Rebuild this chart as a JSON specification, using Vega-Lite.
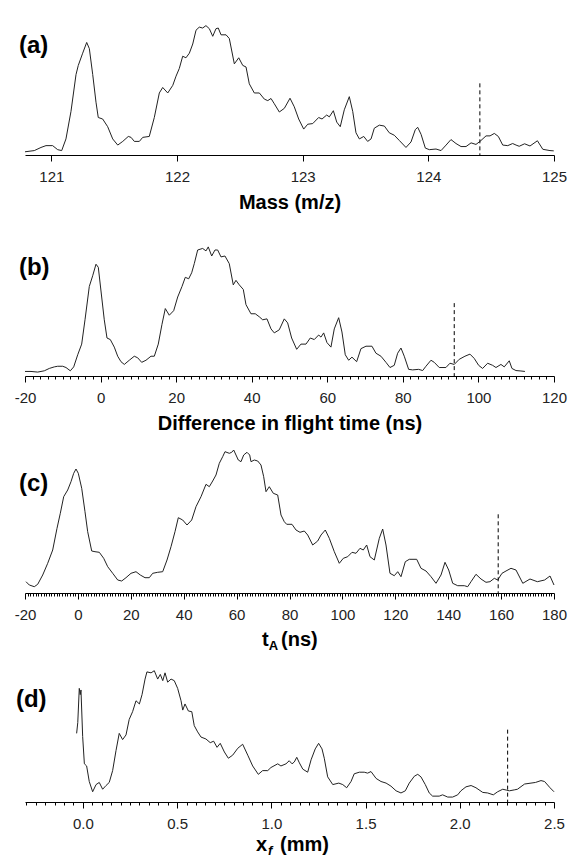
{
  "$schema": "https://vega.github.io/schema/vega-lite/v6.json",
  "padding": {"left": 14, "top": 8, "right": 5, "bottom": 0},
  "spacing": 0,
  "config": {
    "view": {"stroke": null},
    "axis": {
      "domainColor": "#000", "tickColor": "#000", "labelColor": "#222", "titleColor": "#000",
      "labelFont": "Liberation Sans", "labelFontSize": 15,
      "titleFont": "Liberation Sans", "titleFontSize": 20, "titleFontWeight": "bold",
      "grid": false, "labelFlush": false, "labelOverlap": false, "labelBound": false,
      "labelPadding": 8, "titlePadding": 8, "tickSize": 6
    }
  },
  "datasets": {
    "one": [{}],
    "a": [
      {"mass":120.79,"intensity":3.5},{"mass":120.864,"intensity":4.8},{"mass":120.917,"intensity":8.2},{"mass":120.957,"intensity":10.2},{"mass":121.01,"intensity":10.2},{"mass":121.05,"intensity":5.8},{"mass":121.082,"intensity":4.8},{"mass":121.116,"intensity":17.5},{"mass":121.156,"intensity":47.5},{"mass":121.196,"intensity":87.5},{"mass":121.214,"intensity":97.5},{"mass":121.249,"intensity":110.8},{"mass":121.281,"intensity":122.5},{"mass":121.302,"intensity":115.8},{"mass":121.329,"intensity":87.5},{"mass":121.355,"intensity":57.5},{"mass":121.373,"intensity":40.8},{"mass":121.408,"intensity":39.2},{"mass":121.448,"intensity":30.8},{"mass":121.488,"intensity":17.5},{"mass":121.528,"intensity":10.8},{"mass":121.568,"intensity":14.8},{"mass":121.612,"intensity":20.2},{"mass":121.634,"intensity":19.2},{"mass":121.66,"intensity":14.8},{"mass":121.7,"intensity":14.8},{"mass":121.727,"intensity":19.2},{"mass":121.779,"intensity":20.2},{"mass":121.819,"intensity":40.8},{"mass":121.859,"intensity":67.5},{"mass":121.886,"intensity":73.5},{"mass":121.926,"intensity":67.5},{"mass":121.966,"intensity":75.8},{"mass":121.992,"intensity":85.8},{"mass":122.018,"intensity":94.2},{"mass":122.045,"intensity":107.5},{"mass":122.071,"intensity":105.8},{"mass":122.098,"intensity":110.8},{"mass":122.125,"intensity":120.8},{"mass":122.151,"intensity":135.8},{"mass":122.177,"intensity":139.2},{"mass":122.204,"intensity":138.2},{"mass":122.23,"intensity":140.8},{"mass":122.257,"intensity":137.5},{"mass":122.284,"intensity":129.2},{"mass":122.31,"intensity":137.5},{"mass":122.328,"intensity":138.2},{"mass":122.35,"intensity":130.8},{"mass":122.39,"intensity":130.8},{"mass":122.416,"intensity":126.8},{"mass":122.456,"intensity":99.2},{"mass":122.491,"intensity":105.8},{"mass":122.523,"intensity":97.5},{"mass":122.549,"intensity":95.8},{"mass":122.575,"intensity":77.5},{"mass":122.615,"intensity":67.5},{"mass":122.655,"intensity":67.5},{"mass":122.695,"intensity":60.8},{"mass":122.722,"intensity":59.2},{"mass":122.748,"intensity":61.5},{"mass":122.774,"intensity":55.8},{"mass":122.814,"intensity":46.8},{"mass":122.854,"intensity":50.8},{"mass":122.899,"intensity":61.8},{"mass":122.933,"intensity":52.5},{"mass":122.968,"intensity":39.2},{"mass":123.008,"intensity":28.2},{"mass":123.04,"intensity":33.5},{"mass":123.08,"intensity":34.2},{"mass":123.127,"intensity":40.8},{"mass":123.154,"intensity":39.2},{"mass":123.191,"intensity":43.5},{"mass":123.212,"intensity":41.5},{"mass":123.244,"intensity":48.2},{"mass":123.271,"intensity":35.8},{"mass":123.299,"intensity":30.8},{"mass":123.331,"intensity":49.2},{"mass":123.371,"intensity":63.5},{"mass":123.398,"intensity":47.5},{"mass":123.424,"intensity":24.2},{"mass":123.451,"intensity":17.5},{"mass":123.486,"intensity":20.2},{"mass":123.517,"intensity":14.8},{"mass":123.544,"intensity":17.5},{"mass":123.57,"intensity":29.2},{"mass":123.61,"intensity":32.5},{"mass":123.65,"intensity":31.5},{"mass":123.689,"intensity":24.2},{"mass":123.729,"intensity":21.5},{"mass":123.769,"intensity":15.8},{"mass":123.822,"intensity":8.2},{"mass":123.862,"intensity":14.2},{"mass":123.896,"intensity":27.5},{"mass":123.915,"intensity":30.2},{"mass":123.942,"intensity":22.5},{"mass":123.976,"intensity":7.5},{"mass":124.008,"intensity":5.8},{"mass":124.061,"intensity":6.5},{"mass":124.101,"intensity":4.8},{"mass":124.141,"intensity":10.8},{"mass":124.18,"intensity":16.8},{"mass":124.22,"intensity":12.5},{"mass":124.26,"intensity":9.2},{"mass":124.3,"intensity":9.2},{"mass":124.34,"intensity":13.2},{"mass":124.379,"intensity":11.5},{"mass":124.411,"intensity":14.8},{"mass":124.459,"intensity":20.8},{"mass":124.491,"intensity":20.8},{"mass":124.525,"intensity":23.5},{"mass":124.557,"intensity":20.2},{"mass":124.592,"intensity":10.8},{"mass":124.632,"intensity":10.2},{"mass":124.671,"intensity":12.5},{"mass":124.698,"intensity":10.8},{"mass":124.723,"intensity":9.5},{"mass":124.766,"intensity":12.2},{"mass":124.809,"intensity":9.8},{"mass":124.868,"intensity":15.5},{"mass":124.911,"intensity":6.2},{"mass":124.968,"intensity":4.8},{"mass":124.998,"intensity":4.5}
    ],
    "b": [
      {"dt":-20,"intensity":5},{"dt":-18.41,"intensity":5},{"dt":-16.64,"intensity":4.3},{"dt":-14.89,"intensity":5.7},{"dt":-13.57,"intensity":8.3},{"dt":-12.25,"intensity":10},{"dt":-11.35,"intensity":10.7},{"dt":-10.02,"intensity":10.7},{"dt":-9.15,"intensity":9.3},{"dt":-8.01,"intensity":5.7},{"dt":-7.11,"intensity":10},{"dt":-6.05,"intensity":23.3},{"dt":-5,"intensity":35},{"dt":-4.12,"intensity":61.7},{"dt":-2.98,"intensity":98.3},{"dt":-2.09,"intensity":110},{"dt":-1.21,"intensity":122.7},{"dt":-0.6,"intensity":119.3},{"dt":0.11,"intensity":93.3},{"dt":0.98,"intensity":61.7},{"dt":1.7,"intensity":41.7},{"dt":2.57,"intensity":40},{"dt":3.63,"intensity":31.7},{"dt":4.53,"intensity":21.7},{"dt":5.4,"intensity":15.7},{"dt":6.28,"intensity":12.7},{"dt":7.6,"intensity":17.3},{"dt":8.92,"intensity":21.7},{"dt":9.82,"intensity":20},{"dt":10.88,"intensity":15},{"dt":12.02,"intensity":17.3},{"dt":13.34,"intensity":21.7},{"dt":14.22,"intensity":21.7},{"dt":15.27,"intensity":35},{"dt":16.25,"intensity":56.7},{"dt":17.13,"intensity":74},{"dt":18.18,"intensity":66.7},{"dt":19.35,"intensity":71.7},{"dt":20.41,"intensity":86.7},{"dt":21.55,"intensity":98.3},{"dt":22.42,"intensity":108.3},{"dt":23.32,"intensity":106.7},{"dt":24.11,"intensity":113.3},{"dt":24.8,"intensity":123.3},{"dt":25.7,"intensity":138.3},{"dt":27.02,"intensity":140},{"dt":27.9,"intensity":137.3},{"dt":28.5,"intensity":141.7},{"dt":29.41,"intensity":131.7},{"dt":30.28,"intensity":138.3},{"dt":30.99,"intensity":138.3},{"dt":31.87,"intensity":130.7},{"dt":32.92,"intensity":131.7},{"dt":34.06,"intensity":123.3},{"dt":35.12,"intensity":100},{"dt":35.83,"intensity":105},{"dt":36.71,"intensity":100},{"dt":37.77,"intensity":95},{"dt":38.48,"intensity":78.3},{"dt":39.8,"intensity":68.3},{"dt":40.94,"intensity":68.3},{"dt":42,"intensity":65},{"dt":42.9,"intensity":61.7},{"dt":44.04,"intensity":62.7},{"dt":45.1,"intensity":51.7},{"dt":45.97,"intensity":47.3},{"dt":47.29,"intensity":50.7},{"dt":48.62,"intensity":62.7},{"dt":49.51,"intensity":58.3},{"dt":50.57,"intensity":41.7},{"dt":51.9,"intensity":29.3},{"dt":53.03,"intensity":35},{"dt":54.36,"intensity":35},{"dt":55.5,"intensity":41.7},{"dt":56.55,"intensity":40},{"dt":57.72,"intensity":45},{"dt":58.33,"intensity":42.7},{"dt":59.04,"intensity":47.3},{"dt":59.91,"intensity":36.7},{"dt":60.97,"intensity":31.7},{"dt":61.85,"intensity":51.7},{"dt":63.01,"intensity":64},{"dt":63.88,"intensity":48.3},{"dt":64.76,"intensity":23.3},{"dt":65.66,"intensity":17.3},{"dt":66.53,"intensity":20.7},{"dt":67.77,"intensity":15.7},{"dt":68.91,"intensity":30},{"dt":70.24,"intensity":32.7},{"dt":71.82,"intensity":32.7},{"dt":72.88,"intensity":25},{"dt":74.2,"intensity":21.7},{"dt":75.53,"intensity":15},{"dt":76.59,"intensity":9.3},{"dt":77.72,"intensity":11.7},{"dt":78.62,"intensity":25},{"dt":79.5,"intensity":30.7},{"dt":80.37,"intensity":21.7},{"dt":81.53,"intensity":7.3},{"dt":82.59,"intensity":6.7},{"dt":84.18,"intensity":7.3},{"dt":85.24,"intensity":6},{"dt":86.11,"intensity":10.7},{"dt":87.44,"intensity":17.3},{"dt":88.31,"intensity":15},{"dt":89.63,"intensity":9.3},{"dt":91.4,"intensity":9.3},{"dt":92.46,"intensity":14},{"dt":93.6,"intensity":12.7},{"dt":94.92,"intensity":18.3},{"dt":96.43,"intensity":21.7},{"dt":97.76,"intensity":24},{"dt":98.89,"intensity":19.3},{"dt":100.06,"intensity":11.7},{"dt":101.11,"intensity":8.3},{"dt":102.44,"intensity":14},{"dt":103.76,"intensity":11.7},{"dt":104.64,"intensity":9.3},{"dt":105.96,"intensity":12.7},{"dt":106.83,"intensity":10},{"dt":108.16,"intensity":16.7},{"dt":108.87,"intensity":8.3},{"dt":109.93,"intensity":6},{"dt":111.25,"intensity":5.5},{"dt":112.31,"intensity":5}
    ],
    "c": [
      {"tA":-19.62,"intensity":11.3},{"tA":-18.37,"intensity":8},{"tA":-16.48,"intensity":6.3},{"tA":-15.2,"intensity":8.7},{"tA":-13.31,"intensity":18},{"tA":-11.42,"intensity":29.7},{"tA":-9.53,"intensity":43},{"tA":-7.9,"intensity":64.7},{"tA":-6.65,"intensity":79.7},{"tA":-5.37,"intensity":96.3},{"tA":-3.86,"intensity":103},{"tA":-2.61,"intensity":111.3},{"tA":-1.59,"intensity":119.7},{"tA":-0.72,"intensity":124},{"tA":0.15,"intensity":119.7},{"tA":1.44,"intensity":104.7},{"tA":2.68,"intensity":81.3},{"tA":3.7,"intensity":61.3},{"tA":5.22,"intensity":42},{"tA":6.46,"intensity":41.3},{"tA":8.09,"intensity":40.7},{"tA":9.75,"intensity":34.7},{"tA":11.27,"intensity":26.3},{"tA":13.16,"intensity":19.7},{"tA":15.05,"intensity":13},{"tA":16.56,"intensity":12},{"tA":18.18,"intensity":15.3},{"tA":20.08,"intensity":19.7},{"tA":21.97,"intensity":21.3},{"tA":23.59,"intensity":18},{"tA":25.37,"intensity":15.3},{"tA":26.99,"intensity":15.3},{"tA":28.28,"intensity":19.7},{"tA":30.17,"intensity":20.7},{"tA":32.06,"intensity":21.3},{"tA":33.69,"intensity":33},{"tA":35.2,"intensity":46.3},{"tA":36.71,"intensity":61.3},{"tA":37.96,"intensity":75.3},{"tA":39.62,"intensity":73},{"tA":41.25,"intensity":68},{"tA":43.02,"intensity":73},{"tA":44.65,"intensity":86.3},{"tA":46.54,"intensity":96.3},{"tA":48.43,"intensity":108.7},{"tA":49.68,"intensity":106.3},{"tA":50.96,"intensity":112},{"tA":52.21,"intensity":118},{"tA":53.46,"intensity":129.7},{"tA":54.74,"intensity":136.3},{"tA":55.61,"intensity":141.3},{"tA":57.24,"intensity":139.7},{"tA":58.15,"intensity":140.7},{"tA":58.9,"intensity":143},{"tA":59.77,"intensity":138},{"tA":60.64,"intensity":133},{"tA":61.66,"intensity":131.3},{"tA":62.68,"intensity":138},{"tA":63.93,"intensity":140.7},{"tA":64.95,"intensity":138},{"tA":65.44,"intensity":131.3},{"tA":66.69,"intensity":133},{"tA":67.98,"intensity":132},{"tA":69.22,"intensity":128},{"tA":70.24,"intensity":116.3},{"tA":71.12,"intensity":101.3},{"tA":72.36,"intensity":106.3},{"tA":73.87,"intensity":99.7},{"tA":75.54,"intensity":98},{"tA":76.79,"intensity":78},{"tA":78.03,"intensity":71.3},{"tA":78.94,"intensity":68.7},{"tA":80.94,"intensity":68.7},{"tA":82.46,"intensity":63},{"tA":83.97,"intensity":60.7},{"tA":85.59,"intensity":62},{"tA":86.88,"intensity":58},{"tA":88.77,"intensity":48},{"tA":90.66,"intensity":52},{"tA":91.91,"intensity":58},{"tA":93.53,"intensity":63},{"tA":95.05,"intensity":54.7},{"tA":96.94,"intensity":41.3},{"tA":98.83,"intensity":29.7},{"tA":100.34,"intensity":34.7},{"tA":102,"intensity":36.3},{"tA":103.63,"intensity":40.7},{"tA":105.14,"intensity":39.7},{"tA":106.65,"intensity":44.7},{"tA":107.9,"intensity":43},{"tA":109.18,"intensity":48},{"tA":110.43,"intensity":36.3},{"tA":112.06,"intensity":33},{"tA":113.95,"intensity":54.7},{"tA":115.23,"intensity":64},{"tA":116.48,"intensity":48},{"tA":117.99,"intensity":19.7},{"tA":119.62,"intensity":17.3},{"tA":120.91,"intensity":21.3},{"tA":122.15,"intensity":16.3},{"tA":123.78,"intensity":31.3},{"tA":125.29,"intensity":33.7},{"tA":128.09,"intensity":33.7},{"tA":129.72,"intensity":24.7},{"tA":131.61,"intensity":22},{"tA":133.5,"intensity":16.3},{"tA":135.39,"intensity":9.7},{"tA":137.28,"intensity":18},{"tA":138.79,"intensity":30.7},{"tA":140.19,"intensity":23},{"tA":141.7,"intensity":9.7},{"tA":143.59,"intensity":7.3},{"tA":146.09,"intensity":7.3},{"tA":147.37,"intensity":6.3},{"tA":148.62,"intensity":11.3},{"tA":150.51,"intensity":18.7},{"tA":152.4,"intensity":14},{"tA":154.29,"intensity":10.7},{"tA":155.8,"intensity":11.3},{"tA":157.43,"intensity":14.7},{"tA":158.71,"intensity":13},{"tA":160.34,"intensity":19.7},{"tA":161.85,"intensity":22},{"tA":163.74,"intensity":24.7},{"tA":165.63,"intensity":23},{"tA":168.2,"intensity":9.7},{"tA":170.93,"intensity":14},{"tA":173.72,"intensity":11.3},{"tA":176.45,"intensity":13},{"tA":178.49,"intensity":17},{"tA":180,"intensity":8}
    ],
    "d": [
      {"xf":-0.033,"intensity":73.7},{"xf":-0.027,"intensity":85.3},{"xf":-0.019,"intensity":122},{"xf":-0.014,"intensity":115.3},{"xf":-0.01,"intensity":120.3},{"xf":-0.001,"intensity":70.3},{"xf":0.008,"intensity":41},{"xf":0.02,"intensity":38.7},{"xf":0.034,"intensity":22},{"xf":0.052,"intensity":11},{"xf":0.07,"intensity":18.7},{"xf":0.087,"intensity":21},{"xf":0.105,"intensity":13.7},{"xf":0.123,"intensity":17.7},{"xf":0.14,"intensity":21},{"xf":0.158,"intensity":33.7},{"xf":0.176,"intensity":55.3},{"xf":0.193,"intensity":73.7},{"xf":0.211,"intensity":67},{"xf":0.229,"intensity":72},{"xf":0.246,"intensity":88.7},{"xf":0.264,"intensity":97},{"xf":0.282,"intensity":108.7},{"xf":0.3,"intensity":105.3},{"xf":0.314,"intensity":115.3},{"xf":0.33,"intensity":132},{"xf":0.34,"intensity":139.7},{"xf":0.362,"intensity":138.7},{"xf":0.379,"intensity":141},{"xf":0.397,"intensity":132},{"xf":0.411,"intensity":137},{"xf":0.424,"intensity":130.3},{"xf":0.436,"intensity":138.7},{"xf":0.45,"intensity":128.7},{"xf":0.468,"intensity":132},{"xf":0.485,"intensity":130.3},{"xf":0.503,"intensity":122},{"xf":0.521,"intensity":108.7},{"xf":0.53,"intensity":98.7},{"xf":0.542,"intensity":105.3},{"xf":0.56,"intensity":97.7},{"xf":0.578,"intensity":97},{"xf":0.591,"intensity":82},{"xf":0.609,"intensity":75.3},{"xf":0.627,"intensity":69.7},{"xf":0.653,"intensity":67.7},{"xf":0.676,"intensity":63.7},{"xf":0.694,"intensity":65.3},{"xf":0.712,"intensity":58.7},{"xf":0.729,"intensity":63},{"xf":0.751,"intensity":53.7},{"xf":0.772,"intensity":47},{"xf":0.795,"intensity":50.3},{"xf":0.822,"intensity":57.7},{"xf":0.848,"intensity":62},{"xf":0.875,"intensity":50.3},{"xf":0.901,"intensity":38.7},{"xf":0.931,"intensity":29.7},{"xf":0.954,"intensity":33.7},{"xf":0.981,"intensity":33.7},{"xf":0.998,"intensity":37},{"xf":1.034,"intensity":41},{"xf":1.051,"intensity":38.7},{"xf":1.078,"intensity":41},{"xf":1.095,"intensity":44.3},{"xf":1.11,"intensity":41},{"xf":1.122,"intensity":43},{"xf":1.135,"intensity":48},{"xf":1.149,"intensity":42},{"xf":1.167,"intensity":35.3},{"xf":1.193,"intensity":32},{"xf":1.211,"intensity":45.3},{"xf":1.233,"intensity":57},{"xf":1.251,"intensity":63},{"xf":1.269,"intensity":57},{"xf":1.281,"intensity":47},{"xf":1.299,"intensity":27},{"xf":1.326,"intensity":18.7},{"xf":1.358,"intensity":20.3},{"xf":1.379,"intensity":18.7},{"xf":1.4,"intensity":15.3},{"xf":1.423,"intensity":22},{"xf":1.44,"intensity":30.3},{"xf":1.467,"intensity":32},{"xf":1.493,"intensity":32},{"xf":1.511,"intensity":31},{"xf":1.529,"intensity":32.7},{"xf":1.556,"intensity":25.3},{"xf":1.582,"intensity":22},{"xf":1.609,"intensity":20.3},{"xf":1.635,"intensity":17},{"xf":1.662,"intensity":12},{"xf":1.688,"intensity":9.7},{"xf":1.711,"intensity":12},{"xf":1.732,"intensity":20.3},{"xf":1.759,"intensity":27.7},{"xf":1.777,"intensity":29.7},{"xf":1.794,"intensity":27},{"xf":1.817,"intensity":18.7},{"xf":1.838,"intensity":9.7},{"xf":1.856,"intensity":6.3},{"xf":1.891,"intensity":6.3},{"xf":1.909,"intensity":7.7},{"xf":1.936,"intensity":5.3},{"xf":1.962,"intensity":5.3},{"xf":1.989,"intensity":7.7},{"xf":2.006,"intensity":12},{"xf":2.033,"intensity":16.3},{"xf":2.06,"intensity":17.7},{"xf":2.086,"intensity":15.3},{"xf":2.122,"intensity":10.3},{"xf":2.148,"intensity":9.7},{"xf":2.178,"intensity":7.7},{"xf":2.201,"intensity":11},{"xf":2.228,"intensity":13.7},{"xf":2.249,"intensity":12.7},{"xf":2.263,"intensity":12},{"xf":2.289,"intensity":13},{"xf":2.306,"intensity":13.7},{"xf":2.344,"intensity":19.3},{"xf":2.402,"intensity":21},{"xf":2.431,"intensity":23},{"xf":2.45,"intensity":22},{"xf":2.479,"intensity":15.3},{"xf":2.5,"intensity":11}
    ]
  },
  "vconcat": [
    {
      "width": 529, "height": 147,
      "layer": [
        {
          "data": {"name": "a"},
          "mark": {"type": "line", "color": "#222", "strokeWidth": 1},
          "encoding": {
            "x": {"field": "mass", "type": "quantitative", "scale": {"domain": [120.79, 125], "nice": false, "zero": false},
                  "axis": {"values": [121, 122, 123, 124, 125], "title": "Mass (m/z)", "format": "d"}},
            "y": {"field": "intensity", "type": "quantitative", "scale": {"domain": [0, 147]}, "axis": null}
          }
        },
        {
          "data": {"name": "one"},
          "mark": {"type": "rule", "color": "#000", "strokeDash": [4, 3], "strokeWidth": 1},
          "encoding": {"x": {"datum": 124.41, "type": "quantitative"}, "y": {"datum": 78, "type": "quantitative"}, "y2": {"datum": 0}}
        },
        {
          "data": {"name": "one"},
          "mark": {"type": "text", "align": "left", "baseline": "top", "font": "Liberation Sans", "fontSize": 24, "fontWeight": "bold", "color": "#000"},
          "encoding": {"x": {"datum": 120.742, "type": "quantitative"}, "y": {"datum": 131.8, "type": "quantitative"}, "text": {"value": "(a)"}}
        }
      ]
    },
    {
      "width": 529, "height": 164,
      "layer": [
        {
          "data": {"name": "b"},
          "mark": {"type": "line", "color": "#222", "strokeWidth": 1},
          "encoding": {
            "x": {"field": "dt", "type": "quantitative", "scale": {"domain": [-20, 120], "nice": false, "zero": false},
                  "axis": {"tickCount": 70, "title": "Difference in flight time (ns)",
                           "labelExpr": "datum.value % 20 === 0 ? toString(datum.value) : ''",
                           "tickSize": {"condition": {"test": "datum.value % 20 === 0", "value": 6}, "value": 3}}},
            "y": {"field": "intensity", "type": "quantitative", "scale": {"domain": [0, 164]}, "axis": null}
          }
        },
        {
          "data": {"name": "one"},
          "mark": {"type": "rule", "color": "#000", "strokeDash": [4, 3], "strokeWidth": 1},
          "encoding": {"x": {"datum": 93.6, "type": "quantitative"}, "y": {"datum": 80, "type": "quantitative"}, "y2": {"datum": 0}}
        },
        {
          "data": {"name": "one"},
          "mark": {"type": "text", "align": "left", "baseline": "top", "font": "Liberation Sans", "fontSize": 24, "fontWeight": "bold", "color": "#000"},
          "encoding": {"x": {"datum": -21.6, "type": "quantitative"}, "y": {"datum": 131.5, "type": "quantitative"}, "text": {"value": "(b)"}}
        }
      ]
    },
    {
      "width": 529, "height": 160,
      "layer": [
        {
          "data": {"name": "c"},
          "mark": {"type": "line", "color": "#222", "strokeWidth": 1},
          "encoding": {
            "x": {"field": "tA", "type": "quantitative", "scale": {"domain": [-20, 180], "nice": false, "zero": false},
                  "axis": {"tickCount": 200, "title": null,
                           "labelExpr": "datum.value % 20 === 0 ? toString(datum.value) : ''",
                           "tickSize": {"condition": {"test": "datum.value % 20 === 0", "value": 6}, "value": 3}}},
            "y": {"field": "intensity", "type": "quantitative", "scale": {"domain": [0, 160]}, "axis": null}
          }
        },
        {
          "data": {"name": "one"},
          "mark": {"type": "rule", "color": "#000", "strokeDash": [4, 3], "strokeWidth": 1},
          "encoding": {"x": {"datum": 158.9, "type": "quantitative"}, "y": {"datum": 78.7, "type": "quantitative"}, "y2": {"datum": 0}}
        },
        {
          "data": {"name": "one"},
          "mark": {"type": "text", "align": "left", "baseline": "top", "font": "Liberation Sans", "fontSize": 24, "fontWeight": "bold", "color": "#000"},
          "encoding": {"x": {"datum": -22.3, "type": "quantitative"}, "y": {"datum": 121.5, "type": "quantitative"}, "text": {"value": "(c)"}}
        },
        {
          "data": {"name": "one"},
          "mark": {"type": "text", "align": "left", "baseline": "alphabetic", "font": "Liberation Sans", "fontSize": 20, "fontWeight": "bold", "color": "#000"},
          "encoding": {"x": {"datum": 69.6, "type": "quantitative"}, "y": {"datum": -53, "type": "quantitative"}, "text": {"value": "t"}}
        },
        {
          "data": {"name": "one"},
          "mark": {"type": "text", "align": "left", "baseline": "alphabetic", "font": "Liberation Sans", "fontSize": 13, "fontWeight": "bold", "color": "#000"},
          "encoding": {"x": {"datum": 72.2, "type": "quantitative"}, "y": {"datum": -57, "type": "quantitative"}, "text": {"value": "A"}}
        },
        {
          "data": {"name": "one"},
          "mark": {"type": "text", "align": "left", "baseline": "alphabetic", "font": "Liberation Sans", "fontSize": 20, "fontWeight": "bold", "color": "#000"},
          "encoding": {"x": {"datum": 76.8, "type": "quantitative"}, "y": {"datum": -53, "type": "quantitative"}, "text": {"value": "(ns)"}}
        }
      ]
    },
    {
      "width": 529, "height": 149,
      "layer": [
        {
          "data": {"name": "d"},
          "mark": {"type": "line", "color": "#222", "strokeWidth": 1},
          "encoding": {
            "x": {"field": "xf", "type": "quantitative", "scale": {"domain": [-0.307, 2.5], "nice": false, "zero": false},
                  "axis": {"tickCount": 56, "title": null,
                           "labelExpr": "abs(datum.value * 2 - round(datum.value * 2)) < 0.000001 ? format(datum.value, '.1f') : ''",
                           "tickSize": {"condition": {"test": "abs(datum.value * 2 - round(datum.value * 2)) < 0.000001", "value": 6}, "value": 3}}},
            "y": {"field": "intensity", "type": "quantitative", "scale": {"domain": [0, 149]}, "axis": null}
          }
        },
        {
          "data": {"name": "one"},
          "mark": {"type": "rule", "color": "#000", "strokeDash": [4, 3], "strokeWidth": 1},
          "encoding": {"x": {"datum": 2.254, "type": "quantitative"}, "y": {"datum": 77.7, "type": "quantitative"}, "y2": {"datum": 0}}
        },
        {
          "data": {"name": "one"},
          "mark": {"type": "text", "align": "left", "baseline": "top", "font": "Liberation Sans", "fontSize": 24, "fontWeight": "bold", "color": "#000"},
          "encoding": {"x": {"datum": -0.355, "type": "quantitative"}, "y": {"datum": 122.5, "type": "quantitative"}, "text": {"value": "(d)"}}
        },
        {
          "data": {"name": "one"},
          "mark": {"type": "text", "align": "left", "baseline": "alphabetic", "font": "Liberation Sans", "fontSize": 20, "fontWeight": "bold", "color": "#000"},
          "encoding": {"x": {"datum": 0.919, "type": "quantitative"}, "y": {"datum": -53, "type": "quantitative"}, "text": {"value": "x"}}
        },
        {
          "data": {"name": "one"},
          "mark": {"type": "text", "align": "left", "baseline": "alphabetic", "font": "Liberation Sans", "fontSize": 13, "fontWeight": "bold", "fontStyle": "italic", "color": "#000"},
          "encoding": {"x": {"datum": 0.982, "type": "quantitative"}, "y": {"datum": -57, "type": "quantitative"}, "text": {"value": "f"}}
        },
        {
          "data": {"name": "one"},
          "mark": {"type": "text", "align": "left", "baseline": "alphabetic", "font": "Liberation Sans", "fontSize": 20, "fontWeight": "bold", "color": "#000"},
          "encoding": {"x": {"datum": 1.046, "type": "quantitative"}, "y": {"datum": -53, "type": "quantitative"}, "text": {"value": "(mm)"}}
        }
      ]
    }
  ]
}
